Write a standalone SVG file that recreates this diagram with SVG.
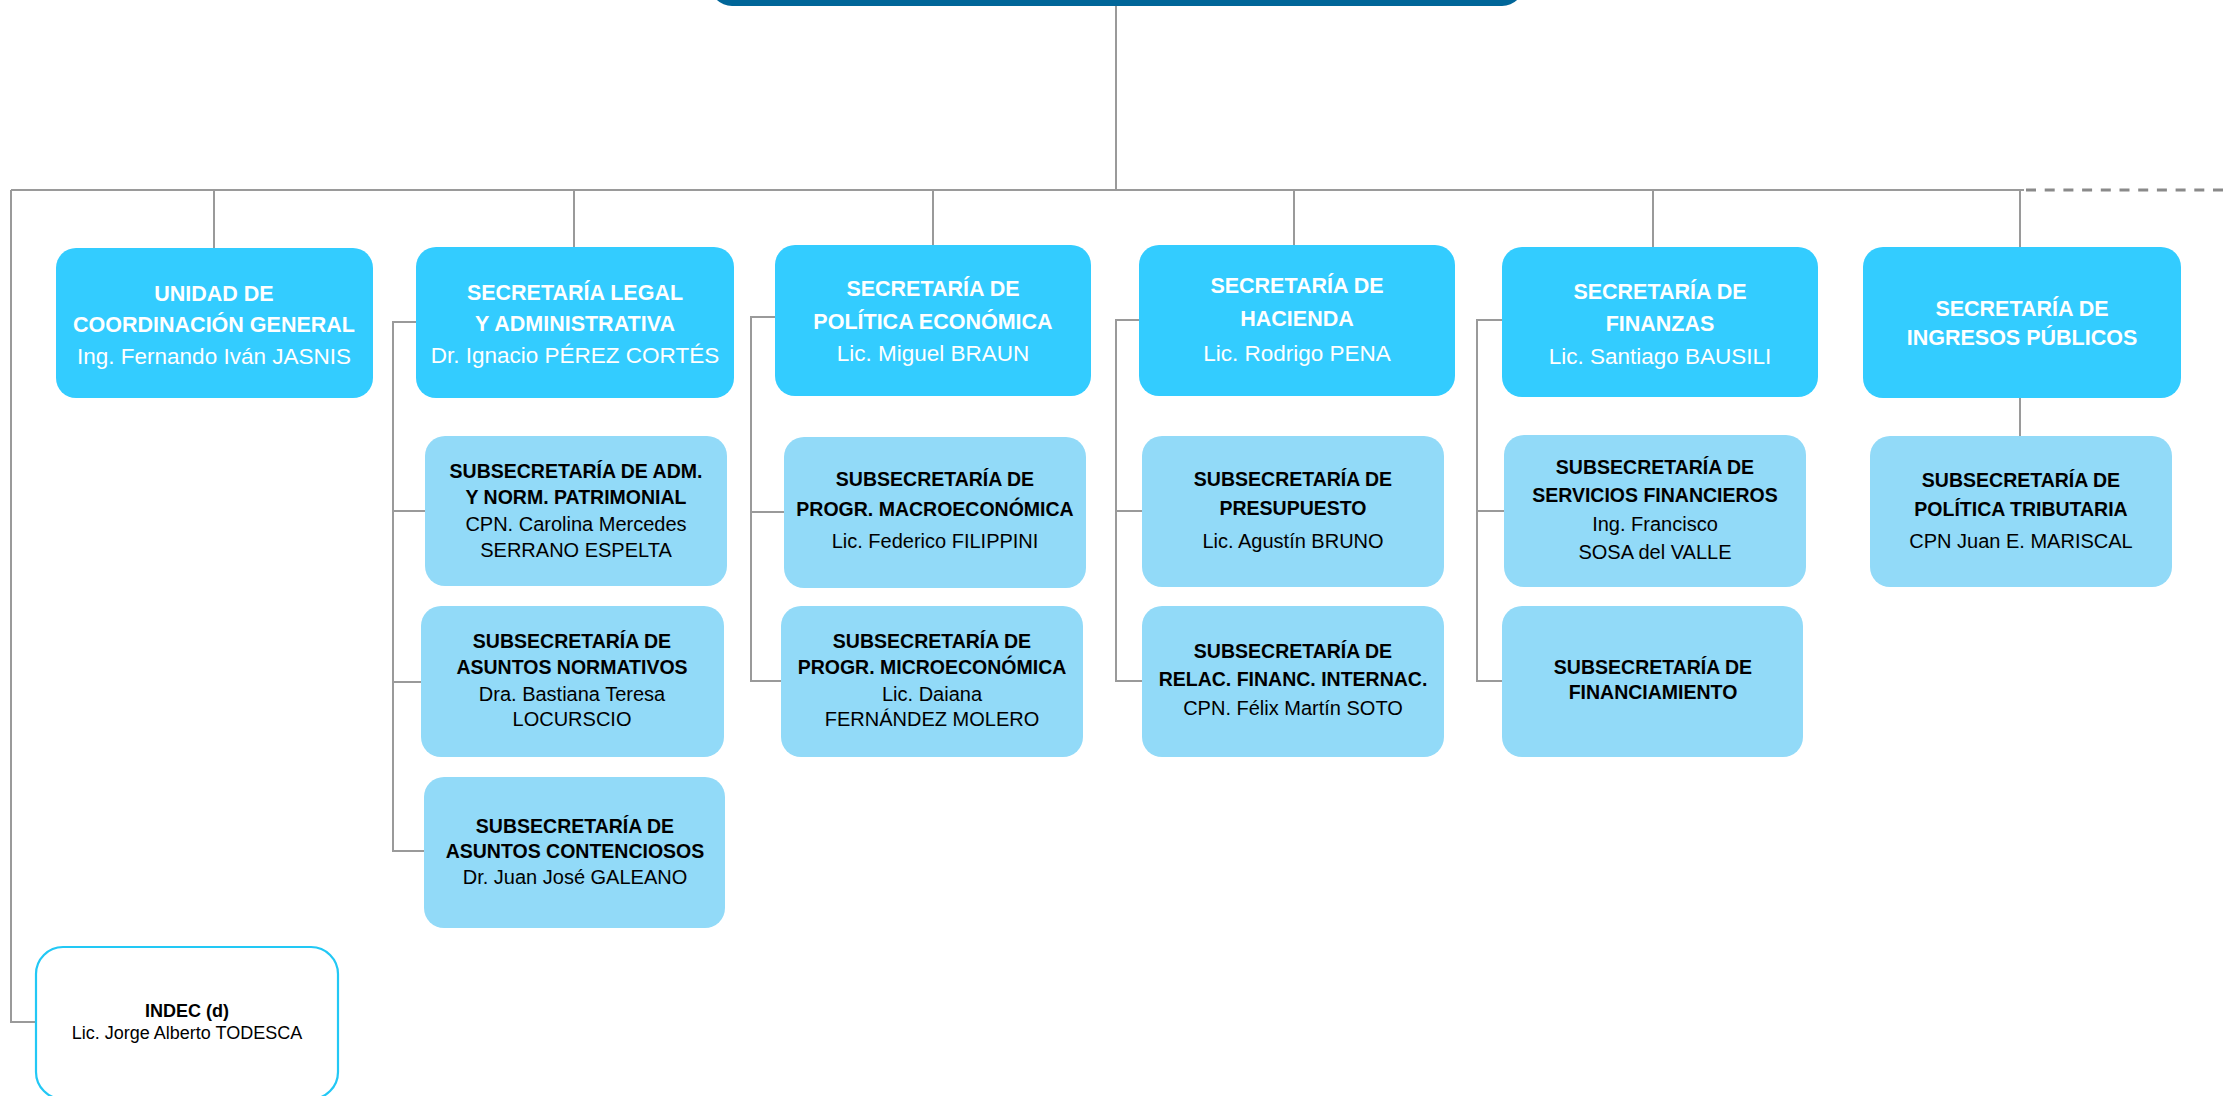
<svg xmlns="http://www.w3.org/2000/svg" width="2229" height="1096" viewBox="0 0 2229 1096">
<style>
.sec{fill:#33CCFF;}
.sub{fill:#92DAF8;}
.top{fill:#006699;}
.indec{fill:#FFFFFF;stroke:#22C8F5;stroke-width:2.2;}
.ln{fill:none;stroke:#9A9A9A;stroke-width:2;}
.dash{fill:none;stroke:#8A8A8A;stroke-width:3;stroke-dasharray:10 8.7;}
text{font-family:"Liberation Sans",Arial,sans-serif;text-anchor:middle;}
.sb{fill:#FFFFFF;font-weight:bold;font-size:21.5px;}
.sr{fill:#FFFFFF;font-size:22.5px;}
.ub{fill:#000000;font-weight:bold;font-size:19.5px;}
.ur{fill:#000000;font-size:20px;}
.ib{fill:#000000;font-weight:bold;font-size:18px;}
.ir{fill:#000000;font-size:18px;}
</style>
<rect x="0" y="0" width="2229" height="1096" fill="#FFFFFF"/>
<g id="connectors">
<path class="ln" d="M1116 6V190"/>
<path class="ln" d="M11 190H2024"/>
<path class="dash" d="M2026 190H2229"/>
<path class="ln" d="M214 190V248M574 190V247M933 190V245M1294 190V245M1653 190V247M2020 190V247"/>
<path class="ln" d="M11 190V1022H36"/>
<path class="ln" d="M416 322H393V851H424M393 511H425M393 682H421"/>
<path class="ln" d="M775 317H751V681H781M751 512H784"/>
<path class="ln" d="M1139 320H1116V681H1142M1116 511H1142"/>
<path class="ln" d="M1502 320H1477V681H1502M1477 511H1504"/>
<path class="ln" d="M2020 398V436"/>
</g>
<g id="ministerio">
<rect class="top" x="710" y="-100" width="814" height="106" rx="22"/>
</g>
<g id="unidad-coordinacion">
<rect class="sec" x="56" y="248" width="317" height="150" rx="20"/>
<text class="sb" x="214" y="301">UNIDAD DE</text>
<text class="sb" x="214" y="332">COORDINACIÓN GENERAL</text>
<text class="sr" x="214" y="364">Ing. Fernando Iván JASNIS</text>
</g>
<g id="sec-legal">
<rect class="sec" x="416" y="247" width="318" height="151" rx="20"/>
<text class="sb" x="575" y="300">SECRETARÍA LEGAL</text>
<text class="sb" x="575" y="331">Y ADMINISTRATIVA</text>
<text class="sr" x="575" y="363">Dr. Ignacio PÉREZ CORTÉS</text>
</g>
<g id="sec-politica-economica">
<rect class="sec" x="775" y="245" width="316" height="151" rx="20"/>
<text class="sb" x="933" y="296">SECRETARÍA DE</text>
<text class="sb" x="933" y="329">POLÍTICA ECONÓMICA</text>
<text class="sr" x="933" y="361">Lic. Miguel BRAUN</text>
</g>
<g id="sec-hacienda">
<rect class="sec" x="1139" y="245" width="316" height="151" rx="20"/>
<text class="sb" x="1297" y="293">SECRETARÍA DE</text>
<text class="sb" x="1297" y="326">HACIENDA</text>
<text class="sr" x="1297" y="361">Lic. Rodrigo PENA</text>
</g>
<g id="sec-finanzas">
<rect class="sec" x="1502" y="247" width="316" height="150" rx="20"/>
<text class="sb" x="1660" y="299">SECRETARÍA DE</text>
<text class="sb" x="1660" y="331">FINANZAS</text>
<text class="sr" x="1660" y="364">Lic. Santiago BAUSILI</text>
</g>
<g id="sec-ingresos">
<rect class="sec" x="1863" y="247" width="318" height="151" rx="20"/>
<text class="sb" x="2022" y="316">SECRETARÍA DE</text>
<text class="sb" x="2022" y="345">INGRESOS PÚBLICOS</text>
</g>
<g id="sub-adm-patrimonial">
<rect class="sub" x="425" y="436" width="302" height="150" rx="20"/>
<text class="ub" x="576" y="478">SUBSECRETARÍA DE ADM.</text>
<text class="ub" x="576" y="504">Y  NORM. PATRIMONIAL</text>
<text class="ur" x="576" y="531">CPN. Carolina Mercedes</text>
<text class="ur" x="576" y="557">SERRANO ESPELTA</text>
</g>
<g id="sub-asuntos-normativos">
<rect class="sub" x="421" y="606" width="303" height="151" rx="20"/>
<text class="ub" x="572" y="648">SUBSECRETARÍA DE</text>
<text class="ub" x="572" y="674">ASUNTOS NORMATIVOS</text>
<text class="ur" x="572" y="701">Dra. Bastiana Teresa</text>
<text class="ur" x="572" y="726">LOCURSCIO</text>
</g>
<g id="sub-asuntos-contenciosos">
<rect class="sub" x="424" y="777" width="301" height="151" rx="20"/>
<text class="ub" x="575" y="833">SUBSECRETARÍA DE</text>
<text class="ub" x="575" y="858">ASUNTOS CONTENCIOSOS</text>
<text class="ur" x="575" y="884">Dr. Juan José GALEANO</text>
</g>
<g id="sub-macro">
<rect class="sub" x="784" y="437" width="302" height="151" rx="20"/>
<text class="ub" x="935" y="486">SUBSECRETARÍA DE</text>
<text class="ub" x="935" y="516">PROGR. MACROECONÓMICA</text>
<text class="ur" x="935" y="548">Lic. Federico FILIPPINI</text>
</g>
<g id="sub-micro">
<rect class="sub" x="781" y="606" width="302" height="151" rx="20"/>
<text class="ub" x="932" y="648">SUBSECRETARÍA DE</text>
<text class="ub" x="932" y="674">PROGR. MICROECONÓMICA</text>
<text class="ur" x="932" y="701">Lic. Daiana</text>
<text class="ur" x="932" y="726">FERNÁNDEZ MOLERO</text>
</g>
<g id="sub-presupuesto">
<rect class="sub" x="1142" y="436" width="302" height="151" rx="20"/>
<text class="ub" x="1293" y="486">SUBSECRETARÍA DE</text>
<text class="ub" x="1293" y="515">PRESUPUESTO</text>
<text class="ur" x="1293" y="548">Lic. Agustín BRUNO</text>
</g>
<g id="sub-relac-financ">
<rect class="sub" x="1142" y="606" width="302" height="151" rx="20"/>
<text class="ub" x="1293" y="658">SUBSECRETARÍA DE</text>
<text class="ub" x="1293" y="686">RELAC. FINANC. INTERNAC.</text>
<text class="ur" x="1293" y="715">CPN. Félix Martín SOTO</text>
</g>
<g id="sub-servicios-financieros">
<rect class="sub" x="1504" y="435" width="302" height="152" rx="20"/>
<text class="ub" x="1655" y="474">SUBSECRETARÍA DE</text>
<text class="ub" x="1655" y="502">SERVICIOS FINANCIEROS</text>
<text class="ur" x="1655" y="531">Ing. Francisco</text>
<text class="ur" x="1655" y="559">SOSA del VALLE</text>
</g>
<g id="sub-financiamiento">
<rect class="sub" x="1502" y="606" width="301" height="151" rx="20"/>
<text class="ub" x="1653" y="674">SUBSECRETARÍA DE</text>
<text class="ub" x="1653" y="699">FINANCIAMIENTO</text>
</g>
<g id="sub-politica-tributaria">
<rect class="sub" x="1870" y="436" width="302" height="151" rx="20"/>
<text class="ub" x="2021" y="487">SUBSECRETARÍA DE</text>
<text class="ub" x="2021" y="516">POLÍTICA TRIBUTARIA</text>
<text class="ur" x="2021" y="548">CPN Juan E. MARISCAL</text>
</g>
<g id="indec">
<rect class="indec" x="36" y="947" width="302" height="152" rx="27"/>
<text class="ib" x="187" y="1017">INDEC (d)</text>
<text class="ir" x="187" y="1039">Lic. Jorge Alberto TODESCA</text>
</g>
</svg>
